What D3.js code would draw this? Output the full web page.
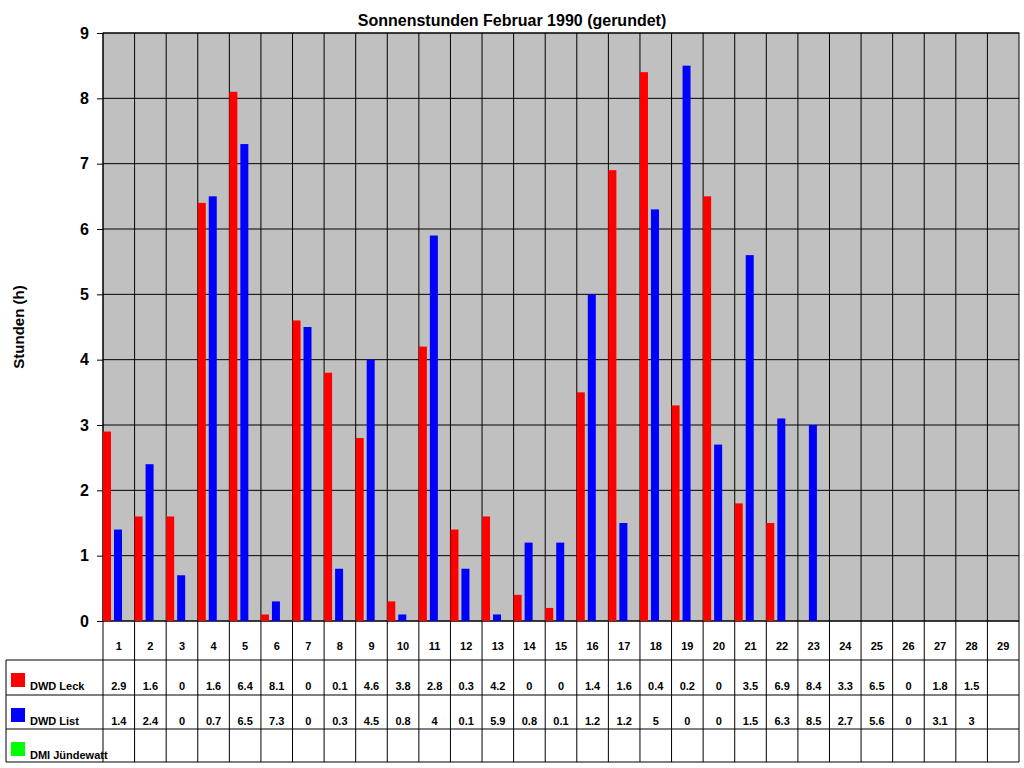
<!DOCTYPE html>
<html><head><meta charset="utf-8">
<script src="https://cdn.jsdelivr.net/npm/d3@7"></script>
<style>body{margin:0;background:#fff}text{font-family:"Liberation Sans",Arial,sans-serif;font-weight:bold}</style>
</head><body>
<script>
var days = d3.range(1, 30).map(String);
var leck = [2.9,1.6,0,1.6,6.4,8.1,0,0.1,4.6,3.8,2.8,0.3,4.2,0,0,1.4,1.6,0.4,0.2,0,3.5,6.9,8.4,3.3,6.5,0,1.8,1.5,null];
var list = [1.4,2.4,0,0.7,6.5,7.3,0,0.3,4.5,0.8,4,0.1,5.9,0.8,0.1,1.2,1.2,5,0,0,1.5,6.3,8.5,2.7,5.6,0,3.1,3,null];
var series = [
  {name: "DWD Leck", color: "#ff0000", values: leck},
  {name: "DWD List", color: "#0000ff", values: list},
  {name: "DMI Jündewatt", color: "#00ff00", values: []}
];
var yTicks = d3.range(0, 10);

var pLeft = 103, pRight = 1019, pTop = 33, pBottom = 621;
var svg = d3.select("body").append("svg").attr("width", 1024).attr("height", 768);

var x = d3.scaleBand().domain(days).range([pLeft, pRight]);
var y = d3.scaleLinear().domain([0, 9]).range([pBottom, pTop]);

svg.append("rect").attr("x", pLeft).attr("y", pTop).attr("width", pRight - pLeft).attr("height", pBottom - pTop)
  .attr("fill", "#c0c0c0").attr("stroke", "#000");

// grid
svg.selectAll(".hg").data(yTicks).enter().append("line")
  .attr("x1", pLeft).attr("x2", pRight).attr("y1", y).attr("y2", y).attr("stroke", "#000");
svg.selectAll(".vg").data(days).enter().append("line")
  .attr("x1", function(d){ return x(d); }).attr("x2", function(d){ return x(d); })
  .attr("y1", pTop).attr("y2", pBottom).attr("stroke", "#000");

// bars
var bw = 8;
[0, 1].forEach(function(s){
  svg.selectAll(".b" + s).data(series[s].values).enter().append("rect")
    .filter(function(d){ return d; })
    .attr("x", function(d, i){ return x(days[i]) + s * 11; })
    .attr("y", function(d){ return y(d); })
    .attr("width", bw)
    .attr("height", function(d){ return pBottom - y(d); })
    .attr("fill", series[s].color);
});

// y axis
var ya = svg.append("g").attr("transform", "translate(" + pLeft + ",0)")
  .call(d3.axisLeft(y).tickValues(yTicks).tickSize(6).tickPadding(8));
ya.select(".domain").remove();
ya.selectAll("line").attr("stroke", "#000");
ya.selectAll("text").attr("font-size", 16).attr("fill", "#000").style("font-family", "Liberation Sans").style("font-weight", "bold");

svg.append("text").attr("x", 512).attr("y", 26).attr("text-anchor", "middle").attr("font-size", 16).text("Sonnenstunden Februar 1990 (gerundet)");
svg.append("text").attr("transform", "translate(24,327) rotate(-90)").attr("text-anchor", "middle").attr("font-size", 15).text("Stunden (h)");

// table
var rowY = [pBottom, 660, 695, 729, 762];
var tb = svg.append("g").attr("stroke", "#000").attr("fill", "none");
tb.selectAll(".tc").data(days.concat(["end"])).enter().append("line")
  .attr("x1", function(d){ return d == "end" ? pRight : x(d); })
  .attr("x2", function(d){ return d == "end" ? pRight : x(d); })
  .attr("y1", pBottom).attr("y2", rowY[4]);
tb.selectAll(".tr").data(rowY.slice(1)).enter().append("line")
  .attr("x1", 6).attr("x2", pRight).attr("y1", function(d){ return d; }).attr("y2", function(d){ return d; });
tb.append("line").attr("x1", 6).attr("x2", 6).attr("y1", rowY[1]).attr("y2", rowY[4]);

svg.selectAll(".dl").data(days).enter().append("text")
  .attr("x", function(d){ return x(d) + x.bandwidth() / 2; }).attr("y", 650)
  .attr("text-anchor", "middle").attr("font-size", 11).text(function(d){ return d; });

series.forEach(function(s, r){
  var ry = rowY[r + 1];
  svg.append("rect").attr("x", 11).attr("y", ry + 13).attr("width", 14).attr("height", 14).attr("fill", s.color);
  svg.append("text").attr("x", 30).attr("y", ry + 30).attr("font-size", 11).text(s.name);
  svg.selectAll(".v" + r).data(s.values).enter().append("text")
    .filter(function(d){ return d !== null; })
    .attr("x", function(d, i){ return x(days[i]) + x.bandwidth() / 2; }).attr("y", ry + 30)
    .attr("text-anchor", "middle").attr("font-size", 11).text(function(d){ return d; });
});
</script>
</body></html>
